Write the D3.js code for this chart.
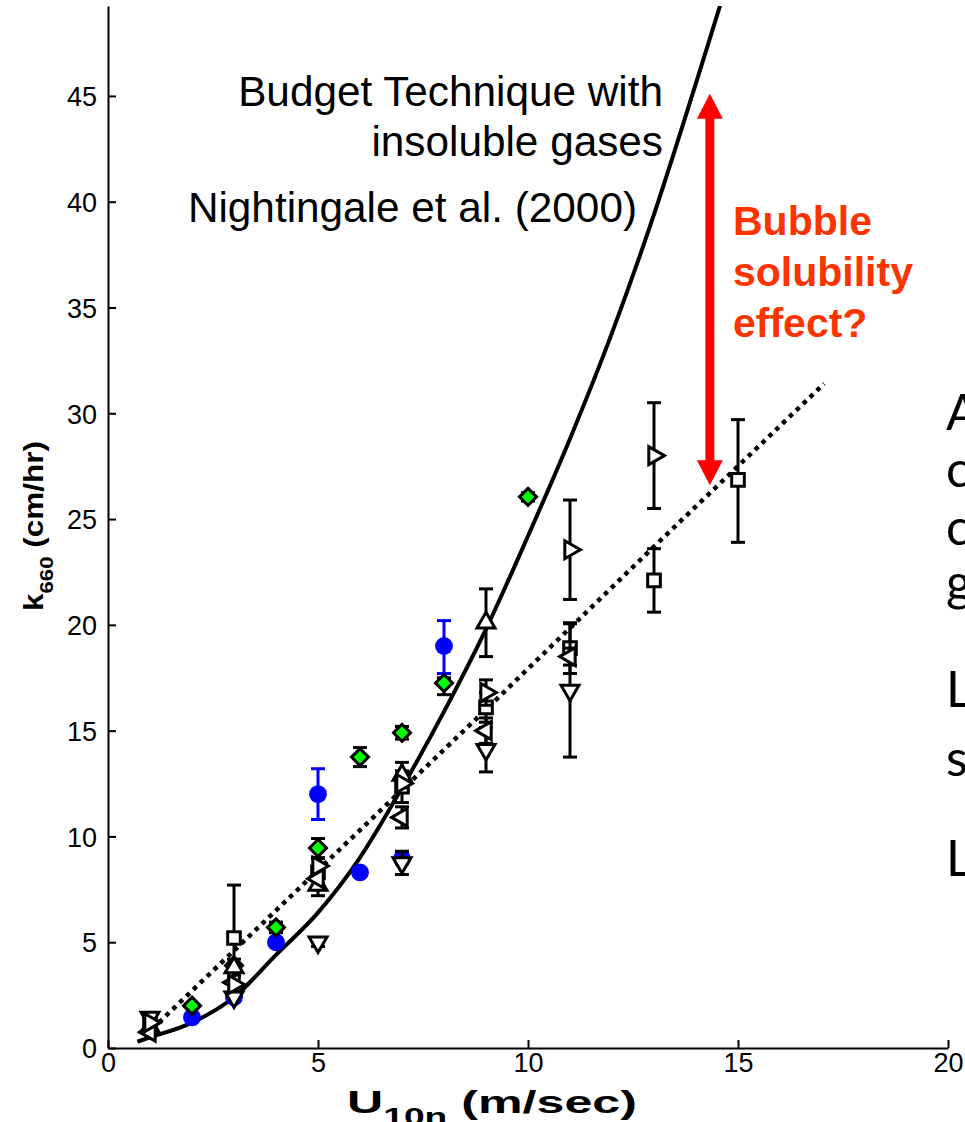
<!DOCTYPE html>
<html lang="en">
<head>
  <meta charset="UTF-8">
  <title>k660 vs U10n</title>
  <script src="https://d3js.org/d3.v7.min.js"></script>
  <style>
    body { margin: 0; background: #fff; }
    svg text { font-family: "Liberation Sans", Arial, sans-serif; }
  </style>
</head>
<body>
<script>
  // ticks
  var xTicks = [0, 5, 10, 15, 20]
  var yTicks = [0, 5, 10, 15, 20, 25, 30, 35, 40, 45]

  // curves: [U10n, k660]
  var nightingale = [[0.7,0.3],[1,0.5],[2,1.2],[3,2.4],[4,4.4],[5,6.4],[6,9.0],[7,12.3],[8,15.9],
                     [9,19.8],[10,24.2],[11,28.8],[12,33.8],[13,39.4],[14,45.6],[15,52.0]]
  var budgetFit = [[1.05,0.9],[5,8.4],[9,16.0],[13,23.7],[17.05,31.4]]

  // measurements: [U10n, k660, errLow, errHigh]
  var blueCircle = [[2,1.45],[3,2.4],[4,5.0],[5,12.0,10.8,13.2],[6,8.3],[7,8.95,8.7,9.25],[8,19.0,17.7,20.2]]
  var greenDiamond = [[2,2.0],[3,3.9],[4,5.7,5.45,5.95],[5,9.45,8.95,9.9],[6,13.75,13.3,14.2],
                      [7,14.9,14.6,15.2],[8,17.25,16.7,17.5],[10,26.05,25.85,26.25]]
  var square = [[1,1.3],[3,5.2,2.7,7.7],[5,8.3,7.6,9.0],[7,12.35,11.6,13.1],[9,16.1,15.4,16.8],
                [11,18.9,17.7,20.1],[13,22.1,20.6,23.6],[15,26.85,23.9,29.7]]
  var triUp = [[1,1.0],[3,3.8,3.4,4.2],[5,7.7,7.2,8.2],[7,12.9,12.3,13.5],[9,20.1,18.5,21.7]]
  var triDown = [[1,1.45],[3,2.4],[5,5.0,4.8,5.2],[7,8.75,8.2,9.3],[9,14.1,13.05,15.15],[11,16.9,13.75,20.05]]
  var triLeft = [[1,0.75],[3,3.1],[5,8.0],[7,10.9,10.4,11.4],[9,15.0,14.4,15.6],[11,18.5,18.1,18.9]]
  var triRight = [[1,1.2],[3,3.0],[5,8.6],[7,12.5],[9,16.8,16.2,17.4],[11,23.55,21.2,25.9],[13,28.0,25.5,30.5]]

  // red arrow (data units)
  var arrowX = 14.33
  var arrowFrom = 26.6
  var arrowTo = 45.1

  var width = 965
  var height = 1122
  var svg = d3.select('body').append('svg').attr('width', width).attr('height', height)

  var x = d3.scaleLinear().domain([0, 20]).range([108, 948])
  var y = d3.scaleLinear().domain([0, 49.25]).range([1048, 6])

  svg.append('clipPath').attr('id', 'plot')
    .append('rect').attr('x', 108).attr('y', 6).attr('width', 840).attr('height', 1042)

  // stretch a label horizontally (in its own frame) to a given length
  function fitLength(sel, len) {
    var w = sel.node().getBBox().width
    sel.attr('transform', (sel.attr('transform') || '') + ' scale(' + (len / w) + ',1)')
  }

  function drawAxis() {
    var xAxis = d3.axisBottom(x).tickValues(xTicks).tickSizeInner(-8).tickSizeOuter(0).tickPadding(5)
    var yAxis = d3.axisLeft(y).tickValues(yTicks).tickSizeInner(-8).tickSizeOuter(0).tickPadding(11)
    var gx = svg.append('g').attr('transform', 'translate(0,1048)').call(xAxis)
    var gy = svg.append('g').attr('transform', 'translate(108,0)').call(yAxis)
    ;[gx, gy].forEach(function (g) {
      g.select('.domain').attr('stroke', '#000').attr('stroke-width', 2)
      g.selectAll('.tick line').attr('stroke', '#000').attr('stroke-width', 2)
      g.selectAll('.tick text').attr('fill', '#000').style('font-size', '27px')
        .style('font-family', '"Liberation Sans", Arial, sans-serif')
    })
    gy.selectAll('.tick text').attr('dy', '0.36em')

    // axis labels
    var xl = svg.append('g').attr('transform', 'translate(347,1113)')
    var xt = xl.append('text').style('font-weight', 'bold').style('font-size', '31px')
    xt.append('tspan').text('U')
    xt.append('tspan').attr('dy', 12).style('font-size', '23px').text('10n')
    xt.append('tspan').attr('dy', -12).text(' (m/sec)')
    fitLength(xt, 290)

    var yl = svg.append('g').attr('transform', 'translate(43,611) rotate(-90)')
    var yt = yl.append('text').style('font-weight', 'bold').style('font-size', '27px')
    yt.append('tspan').text('k')
    yt.append('tspan').attr('dy', 10).style('font-size', '19px').text('660')
    yt.append('tspan').attr('dy', -10).text(' (cm/hr)')
    fitLength(yt, 170)
  }

  function drawCurves() {
    var line = d3.line().x(function (d) { return x(d[0]) }).y(function (d) { return y(d[1]) })
    var g = svg.append('g').attr('clip-path', 'url(#plot)')
    g.append('path').datum(nightingale).attr('d', line.curve(d3.curveMonotoneX))
      .attr('fill', 'none').attr('stroke', '#000').attr('stroke-width', 4)
    g.append('path').datum(budgetFit).attr('d', line.curve(d3.curveLinear))
      .attr('fill', 'none').attr('stroke', '#000').attr('stroke-width', 4.5)
      .attr('stroke-dasharray', '4.5,5')
  }

  // marker shapes
  var sq = d3.symbol().type(d3.symbolSquare).size(160)()
  var tri = d3.symbol().type(d3.symbolTriangle).size(140)()
  var dia = 'M0,-8.5L8.5,0L0,8.5L-8.5,0Z'
  var circ = d3.symbol().type(d3.symbolCircle).size(250)()

  function drawSeries(data, shape, rot, fill, color) {
    var g = svg.append('g')
    var bars = data.filter(function (d) { return d[2] != null })
    g.selectAll('line.bar').data(bars).enter().append('line')
      .attr('x1', function (d) { return x(d[0]) }).attr('x2', function (d) { return x(d[0]) })
      .attr('y1', function (d) { return y(d[2]) }).attr('y2', function (d) { return y(d[3]) })
      .attr('stroke', color).attr('stroke-width', 3)
    ;[2, 3].forEach(function (i) {
      g.selectAll('line.cap' + i).data(bars).enter().append('line')
        .attr('x1', function (d) { return x(d[0]) - 7 }).attr('x2', function (d) { return x(d[0]) + 7 })
        .attr('y1', function (d) { return y(d[i]) }).attr('y2', function (d) { return y(d[i]) })
        .attr('stroke', color).attr('stroke-width', 3)
    })
    g.selectAll('path').data(data).enter().append('path')
      .attr('d', shape)
      .attr('transform', function (d) { return 'translate(' + x(d[0]) + ',' + y(d[1]) + ') rotate(' + rot + ')' })
      .attr('fill', fill).attr('stroke', color === 'blue' ? 'none' : '#000').attr('stroke-width', 3)
  }

  function drawAnnotations() {
    // red arrow
    var ax = x(arrowX), y0 = y(arrowFrom), y1 = y(arrowTo)
    svg.append('path')
      .attr('d', 'M' + ax + ',' + y1 + 'L' + (ax + 13) + ',' + (y1 + 25) + 'L' + (ax + 4.5) + ',' + (y1 + 25) +
        'L' + (ax + 4.5) + ',' + (y0 - 25) + 'L' + (ax + 13) + ',' + (y0 - 25) + 'L' + ax + ',' + y0 +
        'L' + (ax - 13) + ',' + (y0 - 25) + 'L' + (ax - 4.5) + ',' + (y0 - 25) + 'L' + (ax - 4.5) + ',' + (y1 + 25) +
        'L' + (ax - 13) + ',' + (y1 + 25) + 'Z')
      .attr('fill', '#ff0000')

    var t = svg.append('g').style('font-size', '42.3px').attr('text-anchor', 'end')
    t.append('text').attr('x', 663).attr('y', 106).text('Budget Technique with')
    t.append('text').attr('x', 663).attr('y', 156).text('insoluble gases')
    t.append('text').attr('x', 637).attr('y', 222).text('Nightingale et al. (2000)')

    var b = svg.append('g').style('font-size', '41px').style('font-weight', 'bold').attr('fill', '#ff3300')
    ;['Bubble', 'solubility', 'effect?'].forEach(function (s, i) {
      b.append('text').attr('x', 733).attr('y', 235 + i * 51).text(s)
    })

    // slide text cut off at the right edge
    var r = svg.append('g').style('font-size', '50px')
    var side = [['A', 430], ['c', 487], ['c', 545], ['g', 600], ['L', 707], ['s', 776], ['L', 876]]
    side.forEach(function (s) {
      r.append('text').attr('x', 946).attr('y', s[1]).style('font-family', 'Lato, sans-serif').text(s[0])
    })
  }

  drawCurves()
  drawSeries(blueCircle, circ, 0, 'blue', 'blue')
  drawSeries(greenDiamond, dia, 0, '#00ff00', '#000')
  drawSeries(square, sq, 0, '#fff', '#000')
  drawSeries(triUp, tri, 0, '#fff', '#000')
  drawSeries(triDown, tri, 180, '#fff', '#000')
  drawSeries(triLeft, tri, -90, '#fff', '#000')
  drawSeries(triRight, tri, 90, '#fff', '#000')
  drawAxis()
  drawAnnotations()
</script>
</body>
</html>
